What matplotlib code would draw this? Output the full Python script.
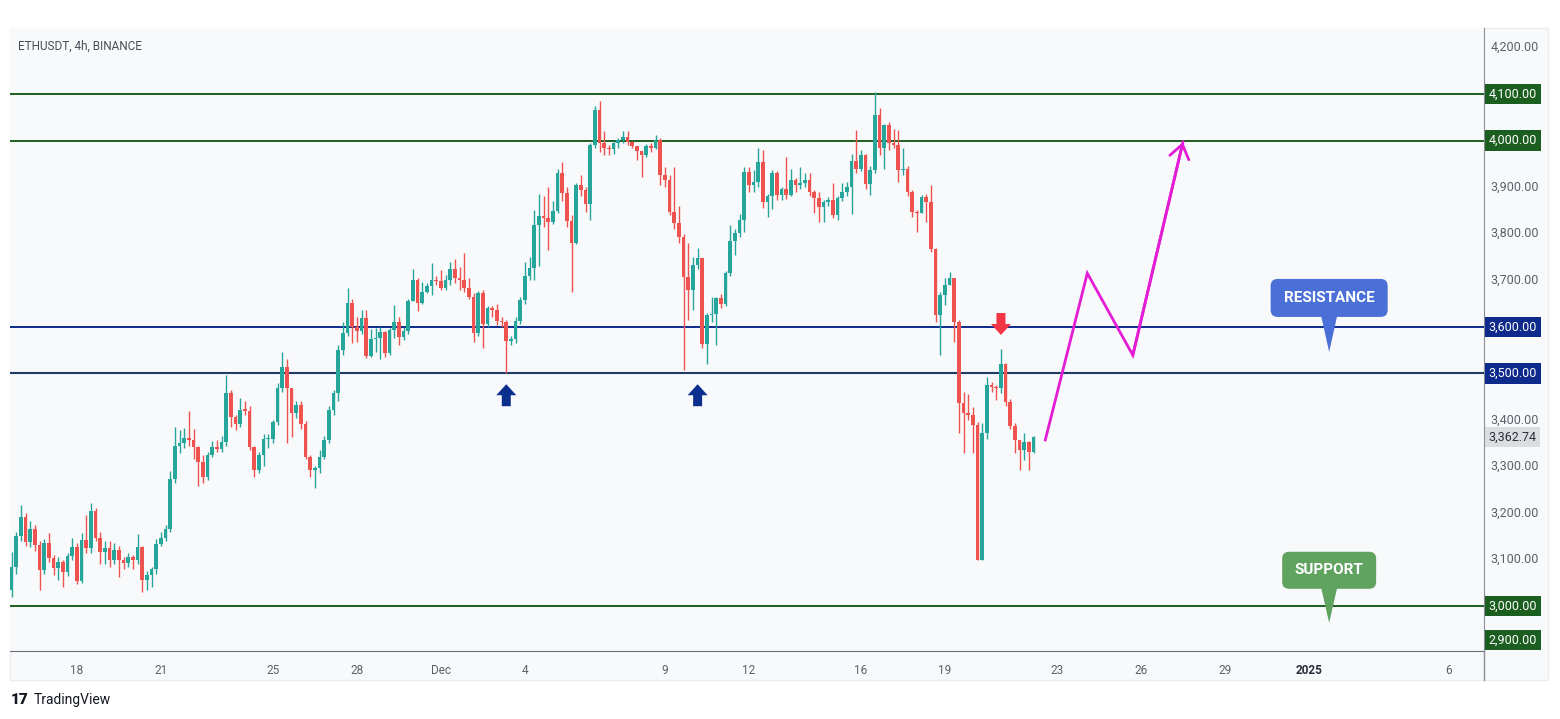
import datetime as dt
import matplotlib
matplotlib.use("Agg")
import matplotlib.pyplot as plt
import matplotlib.dates as mdates
from matplotlib.patches import Polygon, FancyBboxPatch, Rectangle
from matplotlib.transforms import ScaledTranslation
from matplotlib.lines import Line2D

plt.rcParams['font.family'] = ['Roboto', 'DejaVu Sans']

# === DATA (ETHUSDT 4h) ===
first_open = 3035
closes = [3085, 3151, 3192, 3138, 3165, 3131, 3078, 3135, 3103, 3081,
          3095, 3074, 3108, 3128, 3053, 3141, 3124, 3205, 3146, 3117,
          3124, 3099, 3121, 3099, 3093, 3106, 3099, 3128, 3056, 3067,
          3079, 3134, 3146, 3165, 3274, 3344, 3351, 3362, 3357, 3341,
          3310, 3278, 3324, 3341, 3338, 3353, 3457, 3407, 3392, 3422,
          3420, 3341, 3292, 3324, 3358, 3360, 3396, 3468, 3514, 3468,
          3414, 3432, 3392, 3321, 3292, 3296, 3321, 3357, 3421, 3457,
          3550, 3587, 3652, 3600, 3590, 3618, 3537, 3573, 3575, 3589,
          3543, 3593, 3611, 3579, 3590, 3655, 3700, 3652, 3675, 3688,
          3700, 3698, 3683, 3700, 3725, 3704, 3700, 3683, 3665, 3586,
          3672, 3607, 3640, 3636, 3613, 3611, 3570, 3573, 3613, 3658,
          3710, 3727, 3818, 3838, 3833, 3825, 3849, 3930, 3887, 3828,
          3781, 3904, 3894, 3864, 3990, 4066, 3995, 3983, 3981, 3995,
          4002, 4008, 3997, 3988, 3978, 3969, 3988, 3985, 4002, 3926,
          3915, 3847, 3822, 3793, 3708, 3679, 3733, 3747, 3564, 3625,
          3627, 3661, 3650, 3715, 3784, 3801, 3829, 3932, 3905, 3912,
          3955, 3869, 3880, 3930, 3883, 3897, 3883, 3915, 3905, 3908,
          3915, 3890, 3876, 3858, 3869, 3872, 3840, 3876, 3890, 3901,
          3956, 3940, 3970, 3906, 3937, 4055, 3983, 4033, 3995, 3990,
          3937, 3940, 3890, 3847, 3845, 3879, 3867, 3768, 3625, 3668,
          3690, 3704, 3611, 3436, 3414, 3410, 3389, 3099, 3371, 3475,
          3470, 3468, 3520, 3439, 3387, 3357, 3335, 3353, 3330, 3362.74]
highs = [3117, 3160, 3217, 3200, 3182, 3175, 3140, 3145, 3156, 3110,
         3106, 3100, 3115, 3146, 3135, 3157, 3196, 3221, 3210, 3160,
         3140, 3140, 3135, 3130, 3105, 3115, 3110, 3155, 3130, 3075,
         3085, 3145, 3160, 3175, 3290, 3385, 3378, 3382, 3420, 3380,
         3345, 3325, 3330, 3355, 3357, 3365, 3496, 3465, 3410, 3446,
         3440, 3430, 3345, 3330, 3370, 3370, 3400, 3480, 3545, 3530,
         3465, 3440, 3440, 3398, 3325, 3300, 3335, 3365, 3430, 3465,
         3560, 3610, 3683, 3660, 3620, 3635, 3635, 3595, 3597, 3600,
         3590, 3597, 3647, 3622, 3600, 3660, 3725, 3705, 3697, 3693,
         3736, 3710, 3722, 3712, 3740, 3745, 3729, 3758, 3704, 3672,
         3676, 3680, 3645, 3645, 3650, 3620, 3615, 3580, 3620, 3665,
         3740, 3750, 3850, 3886, 3880, 3900, 3870, 3940, 3955, 3900,
         3840, 3908, 3925, 3900, 3995, 4075, 4084, 4020, 3990, 4000,
         4005, 4020, 4020, 4000, 3986, 3978, 3992, 3995, 4012, 4005,
         3944, 3925, 3944, 3860, 3800, 3780, 3750, 3770, 3747, 3630,
         3665, 3665, 3670, 3720, 3818, 3811, 3843, 3944, 3944, 3937,
         3983, 3980, 3885, 3937, 3935, 3900, 3965, 3940, 3920, 3944,
         3930, 3930, 3893, 3890, 3872, 3878, 3908, 3880, 3908, 3910,
         3972, 4023, 3980, 3972, 3945, 4105, 4069, 4035, 4040, 4025,
         4022, 3983, 3945, 3893, 3850, 3883, 3886, 3904, 3770, 3675,
         3705, 3718, 3704, 3615, 3460, 3455, 3428, 3395, 3393, 3493,
         3482, 3475, 3552, 3522, 3445, 3393, 3357, 3371, 3355, 3365]
lows = [3020, 3070, 3140, 3130, 3128, 3118, 3035, 3070, 3095, 3067,
        3056, 3042, 3065, 3100, 3048, 3050, 3115, 3115, 3140, 3090,
        3090, 3085, 3090, 3063, 3080, 3085, 3080, 3090, 3030, 3035,
        3040, 3070, 3130, 3140, 3160, 3265, 3328, 3340, 3345, 3315,
        3257, 3264, 3270, 3320, 3330, 3330, 3345, 3385, 3378, 3385,
        3410, 3335, 3278, 3285, 3300, 3340, 3350, 3390, 3460, 3350,
        3364, 3405, 3380, 3315, 3278, 3253, 3285, 3315, 3350, 3410,
        3440, 3540, 3580, 3565, 3568, 3585, 3532, 3535, 3546, 3530,
        3536, 3540, 3575, 3561, 3572, 3585, 3655, 3633, 3650, 3672,
        3668, 3690, 3680, 3680, 3690, 3695, 3680, 3675, 3660, 3568,
        3580, 3554, 3600, 3620, 3604, 3600, 3500, 3560, 3565, 3605,
        3650, 3700, 3700, 3730, 3815, 3765, 3820, 3845, 3870, 3815,
        3675, 3778, 3880, 3847, 3830, 3985, 3975, 3969, 3969, 3972,
        3984, 3994, 3990, 3983, 3958, 3922, 3965, 3975, 3982, 3905,
        3900, 3840, 3810, 3780, 3507, 3615, 3635, 3725, 3554, 3520,
        3610, 3561, 3640, 3645, 3710, 3754, 3793, 3804, 3890, 3890,
        3900, 3856, 3836, 3854, 3872, 3872, 3875, 3880, 3890, 3895,
        3900, 3880, 3844, 3826, 3826, 3860, 3833, 3830, 3870, 3880,
        3843, 3930, 3935, 3895, 3883, 3930, 3970, 3940, 3980, 3985,
        3911, 3925, 3880, 3836, 3804, 3845, 3826, 3760, 3610, 3539,
        3646, 3690, 3568, 3371, 3328, 3400, 3328, 3099, 3099, 3360,
        3460, 3443, 3457, 3430, 3380, 3328, 3292, 3314, 3292, 3328]
start_time = dt.datetime(2024, 11, 15, 16)
candle_step = dt.timedelta(hours=4)

green_levels = [4100, 4000, 3000]
blue_levels = [3600, 3500]
price_ticks = [2900, 3000, 3100, 3200, 3300, 3400, 3500, 3600,
               3700, 3800, 3900, 4000, 4100, 4200]
last_price = closes[-1]

time_ticks = [dt.datetime(2024, 11, 18), dt.datetime(2024, 11, 21), dt.datetime(2024, 11, 25),
              dt.datetime(2024, 11, 28), dt.datetime(2024, 12, 1), dt.datetime(2024, 12, 4),
              dt.datetime(2024, 12, 9), dt.datetime(2024, 12, 12), dt.datetime(2024, 12, 16),
              dt.datetime(2024, 12, 19), dt.datetime(2024, 12, 23), dt.datetime(2024, 12, 26),
              dt.datetime(2024, 12, 29), dt.datetime(2025, 1, 1), dt.datetime(2025, 1, 6)]
time_labels = ['18', '21', '25', '28', 'Dec', '4', '9', '12', '16', '19',
               '23', '26', '29', '2025', '6']

# projected path (magenta)
proj_times = [dt.datetime(2024, 12, 22, 14), dt.datetime(2024, 12, 24, 2),
              dt.datetime(2024, 12, 25, 17), dt.datetime(2024, 12, 27, 12)]
proj_prices = [3357, 3715, 3539, 3997]

# bounce arrows (candle index, price)
up_arrows = [(106, 3453), (147, 3453)]
down_arrows = [(212, 3606)]

# === COLORES ===
UP = '#26a69a'
DOWN = '#ef5350'
DKGREEN = '#1b5e20'
DKBLUE = '#0d2a8c'
BG = '#f8f9fb'
TXT = '#5d606b'

W, H = 1560, 719
fig = plt.figure(figsize=(W / 100, H / 100), dpi=100)
fig.patch.set_facecolor('white')
fig.patches.append(Rectangle((10 / W, 1 - 680 / H), (1548 - 10) / W, (680 - 28) / H,
                             transform=fig.transFigure, fc=BG, ec='#ececee', lw=1, zorder=-5))
L, R, T, B = 10, 1484, 28, 651
ax = fig.add_axes([L / W, 1 - B / H, (R - L) / W, (B - T) / H])
ax.set_facecolor(BG)

dec1 = mdates.date2num(dt.datetime(2024, 12, 1))
ax.set_xlim(dec1 - 15.39, dec1 + 37.25)
ax.set_ylim(2903.6, 4241.8)

# === VELAS ===
opens = [first_open] + closes[:-1]
times = [start_time + i * candle_step for i in range(len(closes))]
xs = mdates.date2num(times)
cols = [UP if c >= o else DOWN for o, c in zip(opens, closes)]
hi = [max(h, o, c) for h, o, c in zip(highs, opens, closes)]
lo = [min(l, o, c) for l, o, c in zip(lows, opens, closes)]
ax.vlines(xs, lo, hi, colors=cols, lw=1.0, zorder=3)
bottoms = [min(o, c) for o, c in zip(opens, closes)]
heights = [max(abs(c - o), 2.5) for o, c in zip(opens, closes)]
ax.bar(xs, heights, bottom=bottoms, width=0.13, color=cols, lw=0, zorder=4)

# === NIVELES ===
for lv in green_levels:
    ax.axhline(lv, color=DKGREEN, lw=1.4, zorder=2)
ax.axhline(blue_levels[0], color=DKBLUE, lw=1.4, zorder=2)
ax.axhline(blue_levels[1], color='#1f3b66', lw=1.5, zorder=2)

# === ETIQUETAS DE PRECIO ===
ytr = ax.get_yaxis_transform()
ymin = ax.get_ylim()[0]
for p in price_ticks:
    ypos = max(p, ymin + 24)
    kw = dict(transform=ytr, ha='left', va='center', fontsize=9, clip_on=False)
    if p in green_levels or p == 2900:
        ax.text(1.0032, ypos, f"{p:,.2f}", color='white',
                bbox=dict(boxstyle='square,pad=0.3', fc=DKGREEN, ec='none'), **kw)
    elif p in blue_levels:
        ax.text(1.0032, ypos, f"{p:,.2f}", color='white',
                bbox=dict(boxstyle='square,pad=0.3', fc=DKBLUE, ec='none'), **kw)
    else:
        ax.text(1.0045, ypos, f"{p:,.2f}", color=TXT, **kw)
ax.text(1.0032, last_price, f"{last_price:,.2f}", transform=ytr, ha='left', va='center',
        fontsize=9, color='#2a2e39', clip_on=False,
        bbox=dict(boxstyle='square,pad=0.3', fc='#dcdde1', ec='none'))

# === EJES ===
ax.set_yticks([])
ax.set_xticks(mdates.date2num(time_ticks))
ax.set_xticklabels(time_labels)
ax.tick_params(axis='x', length=0, pad=9, labelsize=8.5, labelcolor=TXT)
ax.get_xticklabels()[13].set_fontweight('bold')
ax.get_xticklabels()[13].set_color('#2a2e39')
for s in ['top', 'left']:
    ax.spines[s].set_visible(False)
ax.spines['bottom'].set_color('#6a6d78')
ax.spines['right'].set_color('#8a8d96')
fig.lines.append(Line2D([R / W, R / W], [1 - 680 / H, 1 - B / H], transform=fig.transFigure,
                        color='#8a8d96', lw=1))


# === FLECHAS ===
def anchor(xd, yd):
    return fig.dpi_scale_trans + ScaledTranslation(xd, yd, ax.transData)


def block_arrow(xd, yd, color, up=True):
    s = 1 if up else -1
    pts = [(0, 11), (10, 0), (4.5, 0), (4.5, -11), (-4.5, -11), (-4.5, 0), (-10, 0)]
    pts = [(a / 100, s * b / 100) for a, b in pts]
    ax.add_patch(Polygon(pts, closed=True, transform=anchor(xd, yd), fc=color, ec='none', zorder=6))


for i, p in up_arrows:
    block_arrow(xs[i], p, '#0b2f8f', up=True)
for i, p in down_arrows:
    block_arrow(xs[i], p, '#f23645', up=False)

# === PROYECCION ===
px = mdates.date2num(proj_times)
ax.plot(px, proj_prices, color='#e31cd6', lw=2, solid_joinstyle='miter', zorder=5)
ax.annotate('', xy=(px[-1], proj_prices[-1]), xytext=(px[-2], proj_prices[-2]),
            arrowprops=dict(arrowstyle='->,head_length=0.7,head_width=0.5', color='#e31cd6',
                            lw=2, shrinkA=0, shrinkB=0, mutation_scale=14), zorder=5)


# === BURBUJAS ===
def bubble(xd, yd, text, color, w, h, tail):
    tr = anchor(xd, yd)
    w, h, tail = w / 100, h / 100, tail / 100
    ax.add_patch(FancyBboxPatch((-w / 2, -h / 2), w, h, boxstyle='round,pad=0,rounding_size=0.07',
                                transform=tr, fc=color, ec='none', zorder=7, clip_on=False))
    ax.add_patch(Polygon([(-0.08, -h / 2 + 0.01), (0.08, -h / 2 + 0.01), (0, -h / 2 - tail)],
                         closed=True, transform=tr, fc=color, ec='none', zorder=7))
    ax.text(xd, yd, text, ha='center', va='center', color='white', fontsize=11,
            fontweight='bold', zorder=8)


bx = dec1 + 31.72
bubble(bx, 3662, 'RESISTANCE', '#4a6fd6', 117, 38, 35)
bubble(bx, 3077, 'SUPPORT', '#5fa35f', 94, 37, 34)

# === TEXTOS ===
fig.text(18 / W, 1 - 46 / H, 'ETHUSDT, 4h, BINANCE', fontsize=8.5, color='#4a4d57', va='center')
fig.text(11 / W, 1 - 700 / H, '17', fontsize=11, fontweight='heavy', color='#131722', va='center')
fig.text(34 / W, 1 - 700 / H, 'TradingView', fontsize=10, color='#131722', va='center')

fig.savefig('out.png', dpi=100, facecolor='white')
